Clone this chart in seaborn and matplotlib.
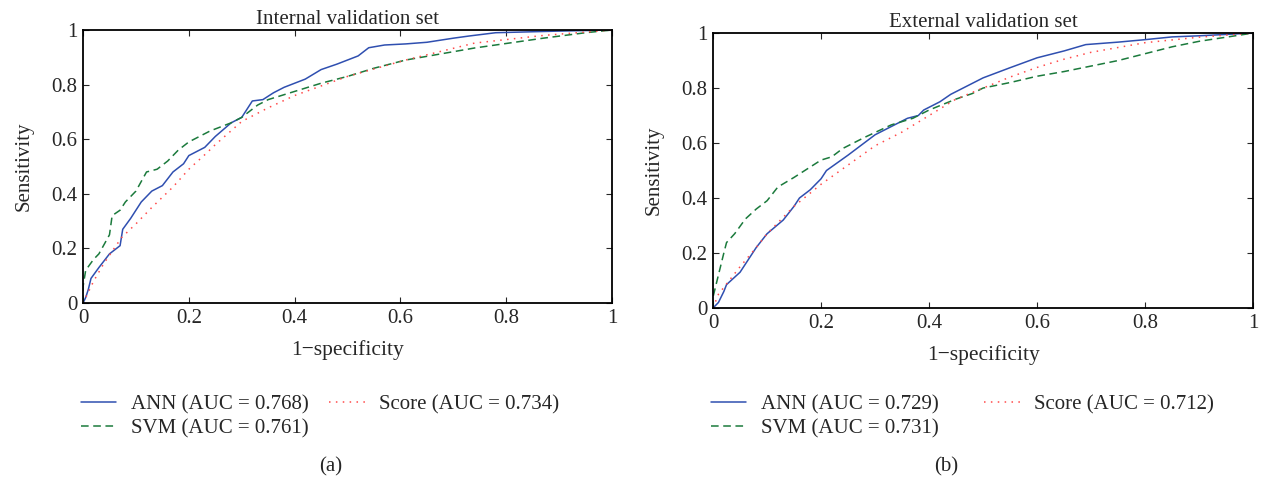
import numpy as np
import pandas as pd
import matplotlib
matplotlib.use("Agg")
import matplotlib.pyplot as plt
import seaborn as sns

# internal validation set
int_ann_fpr = [0, 0.005, 0.01, 0.015, 0.03, 0.05, 0.07, 0.075, 0.09, 0.11, 0.13, 0.15, 0.17, 0.19, 0.2, 0.23,
               0.25, 0.28, 0.3, 0.32, 0.34, 0.36, 0.38, 0.4, 0.42, 0.45, 0.48, 0.5, 0.52, 0.54, 0.57, 0.61,
               0.65, 0.7, 0.73, 0.78, 0.9, 1.0]
int_ann_tpr = [0, 0.02, 0.05, 0.09, 0.13, 0.18, 0.21, 0.27, 0.31, 0.37, 0.41, 0.43, 0.48, 0.51, 0.54, 0.57,
               0.61, 0.66, 0.68, 0.74, 0.745, 0.77, 0.79, 0.805, 0.82, 0.855, 0.875, 0.89, 0.905, 0.935, 0.945, 0.949,
               0.955, 0.97, 0.978, 0.99, 0.996, 1.0]
int_svm_fpr = [0, 0.0, 0.005, 0.02, 0.03, 0.05, 0.055, 0.07, 0.08, 0.1, 0.12, 0.14, 0.16, 0.18, 0.2, 0.22,
               0.24, 0.26, 0.28, 0.3, 0.33, 0.35, 0.4, 0.45, 0.5, 0.55, 0.61, 0.74, 0.87, 0.95, 1.0]
int_svm_tpr = [0, 0.06, 0.12, 0.16, 0.18, 0.25, 0.32, 0.34, 0.37, 0.41, 0.48, 0.49, 0.52, 0.56, 0.59, 0.61,
               0.63, 0.645, 0.66, 0.68, 0.725, 0.745, 0.775, 0.805, 0.83, 0.86, 0.89, 0.934, 0.97, 0.99, 1.0]
int_score_fpr = [0, 0.01, 0.02, 0.04, 0.073, 0.1, 0.13, 0.17, 0.2, 0.234, 0.25, 0.3, 0.35, 0.4, 0.5, 0.61,
                 0.74, 0.87, 1.0]
int_score_tpr = [0, 0.04, 0.08, 0.147, 0.24, 0.29, 0.35, 0.425, 0.49, 0.55, 0.58, 0.665, 0.715, 0.76, 0.83, 0.89,
                 0.952, 0.98, 1.0]

# external validation set
ext_ann_fpr = [0, 0.01, 0.02, 0.025, 0.05, 0.08, 0.1, 0.13, 0.15, 0.16, 0.18, 0.2, 0.21, 0.25, 0.3, 0.33,
               0.36, 0.38, 0.39, 0.42, 0.44, 0.5, 0.55, 0.6, 0.65, 0.69, 0.75, 0.8, 0.85, 0.9, 1.0]
ext_ann_tpr = [0, 0.02, 0.06, 0.085, 0.13, 0.22, 0.27, 0.32, 0.37, 0.4, 0.43, 0.47, 0.5, 0.556, 0.63, 0.66,
               0.69, 0.70, 0.72, 0.75, 0.777, 0.837, 0.874, 0.91, 0.935, 0.958, 0.967, 0.976, 0.986, 0.99, 1.0]
ext_svm_fpr = [0, 0.0, 0.01, 0.02, 0.025, 0.04, 0.06, 0.08, 0.1, 0.12, 0.15, 0.2, 0.22, 0.24, 0.28, 0.33,
               0.37, 0.4, 0.45, 0.48, 0.5, 0.55, 0.6, 0.65, 0.7, 0.75, 0.8, 0.85, 0.9, 0.95, 1.0]
ext_svm_tpr = [0, 0.04, 0.12, 0.2, 0.238, 0.27, 0.324, 0.36, 0.39, 0.44, 0.475, 0.538, 0.55, 0.58, 0.62, 0.666,
               0.69, 0.72, 0.76, 0.78, 0.80, 0.82, 0.843, 0.86, 0.88, 0.9, 0.925, 0.95, 0.97, 0.985, 1.0]
ext_score_fpr = [0, 0.01, 0.03, 0.05, 0.08, 0.1, 0.15, 0.2, 0.25, 0.3, 0.35, 0.4, 0.45, 0.5, 0.55, 0.6,
                 0.65, 0.7, 0.8, 0.9, 1.0]
ext_score_tpr = [0, 0.05, 0.1, 0.15, 0.22, 0.27, 0.37, 0.45, 0.52, 0.59, 0.64, 0.7, 0.76, 0.8, 0.84, 0.875,
                 0.905, 0.93, 0.965, 0.985, 1.0]

int_labels = ["ANN (AUC = 0.768)", "SVM (AUC = 0.761)", "Score (AUC = 0.734)"]
ext_labels = ["ANN (AUC = 0.729)", "SVM (AUC = 0.731)", "Score (AUC = 0.712)"]
panel_titles = ["Internal validation set", "External validation set"]
panel_tags = ["(a)", "(b)"]
ticks = [0, 0.2, 0.4, 0.6, 0.8, 1]
tick_labels = ["0", "0.2", "0.4", "0.6", "0.8", "1"]

sns.set_style("ticks")
plt.rcParams["font.family"] = ["Liberation Serif", "DejaVu Serif"]

colors = ["#2f4fb0", "#1b7a3c", "#ff4a4a"]
styles = ["-", (0, (5, 3)), (0, (1, 3.5))]

fig = plt.figure(figsize=(12.62, 4.79), dpi=100)
ax1 = fig.add_axes([0.0658, 0.3674, 0.4192, 0.570])
ax2 = fig.add_axes([0.565, 0.357, 0.428, 0.574])

panels = [
    (ax1, [(int_ann_fpr, int_ann_tpr), (int_svm_fpr, int_svm_tpr), (int_score_fpr, int_score_tpr)], int_labels),
    (ax2, [(ext_ann_fpr, ext_ann_tpr), (ext_svm_fpr, ext_svm_tpr), (ext_score_fpr, ext_score_tpr)], ext_labels),
]

for k, (ax, curves, labels) in enumerate(panels):
    for (fx, ty), lab, c, ls in zip(curves, labels, colors, styles):
        sns.lineplot(x=fx, y=ty, ax=ax, estimator=None, sort=False, color=c,
                     linestyle=ls, linewidth=1.1, label=lab)
    ax.set_xlim(0, 1)
    ax.set_ylim(0, 1)
    ax.set_xticks(ticks)
    ax.set_xticklabels(tick_labels)
    ax.set_yticks(ticks)
    ax.set_yticklabels(tick_labels)
    ax.tick_params(direction="in", length=4, width=0.8, labelsize=15, top=True, right=True, pad=4)
    for s in ax.spines.values():
        s.set_linewidth(1.3)
        s.set_color("black")
    ax.set_title(panel_titles[k], fontsize=15, pad=4)
    ax.set_xlabel("1\u2212specificity", fontsize=15.5, labelpad=9)
    ax.set_ylabel("Sensitivity", fontsize=15, labelpad=13)
    ax.get_legend().remove()

h1, l1 = ax1.get_legend_handles_labels()
fig.legend(h1, l1, loc="upper left", bbox_to_anchor=(0.064, 0.175), ncol=2, frameon=False,
           fontsize=15, handlelength=1.7, handletextpad=0.7, columnspacing=1.0,
           labelspacing=0.2, borderaxespad=0, borderpad=0)
h2, l2 = ax2.get_legend_handles_labels()
fig.legend(h2, l2, loc="upper left", bbox_to_anchor=(0.563, 0.175), ncol=2, frameon=False,
           fontsize=15, handlelength=1.7, handletextpad=0.7, columnspacing=2.2,
           labelspacing=0.2, borderaxespad=0, borderpad=0)
fig.text(0.262, 0.015, panel_tags[0], fontsize=15, ha="center")
fig.text(0.750, 0.015, panel_tags[1], fontsize=15, ha="center")

fig.savefig("out.png", dpi=100)
